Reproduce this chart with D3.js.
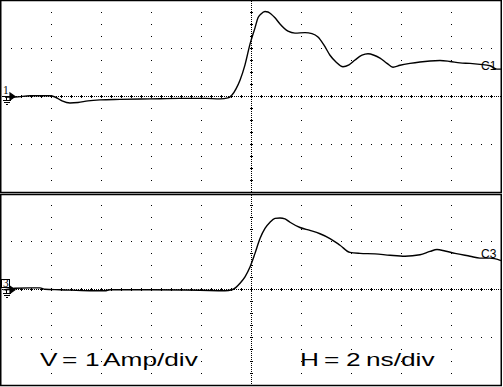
<!DOCTYPE html>
<html>
<head>
<meta charset="utf-8">
<script src="https://cdn.jsdelivr.net/npm/d3@7"></script>
<style>
  body { margin: 0; background: #fff; }
  svg { display: block; }
</style>
</head>
<body>
<div id="scope"></div>
<script>
// horizontal: 2 ns/div, 10 divisions; vertical: 1 A/div, 4 divisions per panel
const timeTicks = [0, 2, 4, 6, 8, 10, 12, 14, 16, 18, 20];
const ampTicks = [-2, -1, 0, 1, 2];
const vScaleWords = ["V", "=", "1", "Amp/div"];
const hScaleWords = ["H", "=", "2", "ns/div"];

// channel 1 (top trace), time in ns, current in A
const c1Time = [0.16, 0.56, 1.16, 1.96, 2.16, 2.44, 2.76, 3.08, 3.48, 3.96, 4.76, 5.96, 7.16, 8.16, 8.76, 9.08,
  9.24, 9.4, 9.56, 9.76, 9.96, 10.16, 10.28, 10.4, 10.56, 10.68, 10.8, 10.96, 11.16, 11.48, 11.76, 12.16,
  12.44, 12.68, 12.92, 13.16, 13.4, 13.68, 13.92, 14.16, 14.44, 14.68, 14.92, 15.16, 15.44, 15.68, 15.96,
  16.36, 16.76, 17.16, 17.56, 17.96, 18.36, 18.76, 19.16, 19.56, 19.84, 20];
const c1Amps = [-0.01, -0.01, 0.015, 0.015, -0.01, -0.09, -0.135, -0.125, -0.09, -0.07, -0.06, -0.05, -0.04, -0.04, -0.05, -0.03,
  0.03, 0.16, 0.34, 0.66, 1.09, 1.43, 1.64, 1.72, 1.77, 1.76, 1.72, 1.64, 1.51, 1.36, 1.32, 1.33,
  1.31, 1.24, 1.07, 0.86, 0.72, 0.62, 0.66, 0.76, 0.86, 0.89, 0.86, 0.8, 0.69, 0.61, 0.65,
  0.69, 0.72, 0.74, 0.75, 0.73, 0.7, 0.69, 0.67, 0.64, 0.57, 0.57];

// channel 3 (bottom trace)
const c3Time = [0.16, 0.56, 1.16, 1.56, 1.76, 2.36, 3.56, 4.16, 4.36, 5.96, 7.96, 8.96, 9.24, 9.4, 9.56, 9.76,
  9.96, 10.16, 10.36, 10.56, 10.76, 10.96, 11.16, 11.36, 11.56, 11.96, 12.36, 12.76, 13.16, 13.56, 13.96,
  14.36, 14.96, 15.56, 16.16, 16.76, 17.16, 17.44, 17.76, 18.16, 18.76, 19.16, 19.56, 20];
const c3Amps = [0, 0.03, 0.04, 0.04, 0.01, 0, -0.02, -0.02, 0, 0, -0.01, -0.02, 0, 0.05, 0.135, 0.27,
  0.475, 0.76, 1.07, 1.28, 1.41, 1.49, 1.5, 1.48, 1.41, 1.3, 1.24, 1.17, 1.07, 0.93, 0.78,
  0.76, 0.75, 0.72, 0.7, 0.73, 0.8, 0.84, 0.81, 0.76, 0.7, 0.66, 0.66, 0.61];

const width = 503, height = 387;

const svg = d3.select("#scope")
  .append("svg")
  .attr("width", width)
  .attr("height", height);

const x = d3.scaleLinear().domain([timeTicks[0], timeTicks[timeTicks.length - 1]]).range([1, 501]);

const panels = [
  { top: 0.5, bottom: 192.5, border: [0.5, 192.5], label: "C1", labelDy: 1, mark: "1", boxed: false,
    time: c1Time, amps: c1Amps },
  { top: 194, bottom: 385.5, border: [194.5, 385.5], label: "C3", labelDy: -2.5, mark: "3", boxed: true,
    time: c3Time, amps: c3Amps }
];

const dot = (g, px, py, w = 1, h = 1) => g.append("rect")
  .attr("x", Math.round(px - w / 2 + 0.01))
  .attr("y", Math.round(py - h / 2 + 0.01))
  .attr("width", w).attr("height", h)
  .attr("fill", "#000")
  .attr("shape-rendering", "crispEdges");

panels.forEach(p => {
  const y = d3.scaleLinear().domain([ampTicks[0], ampTicks[ampTicks.length - 1]]).range([p.bottom, p.top]);
  const g = svg.append("g");

  // border
  g.append("rect")
    .attr("x", 0.75).attr("y", p.border[0])
    .attr("width", 500.5).attr("height", p.border[1] - p.border[0])
    .attr("fill", "none")
    .attr("stroke", "#000")
    .attr("stroke-width", 1.5);

  const grid = g.append("g");
  const xMid = x(10), yMid = y(0);

  // vertical division lines: a dot every quarter division
  timeTicks.slice(1, -1).forEach(t => {
    const px = x(t);
    if (t === 10) return;
    d3.range(ampTicks[0] + 0.25, ampTicks[ampTicks.length - 1], 0.25)
      .forEach(a => dot(grid, px, y(a)));
  });

  // horizontal division lines: a dot every fifth of a division
  ampTicks.slice(1, -1).forEach(a => {
    if (a === 0) return;
    const py = y(a);
    d3.range(0.4, 20, 0.4).forEach(t => dot(grid, x(t), py));
  });

  // centre axes, densely dotted with minor ticks
  for (let px = x(0) + 1; px < x(20); px += 2) dot(grid, px, yMid);
  d3.range(0.4, 20, 0.4).forEach(t => dot(grid, x(t), yMid, 1, 3));
  for (let py = p.top + 1; py < p.bottom; py += 2) dot(grid, xMid, py);
  d3.range(-1.75, 2, 0.25).forEach(a => dot(grid, xMid, y(a), 3, 1));

  // trace
  const pts = p.time.map((t, i) => [t, p.amps[i]]);
  const line = d3.line()
    .x(d => x(d[0]))
    .y(d => y(d[1]))
    .curve(d3.curveMonotoneX);

  g.append("path")
    .datum(pts)
    .attr("d", line)
    .attr("fill", "none")
    .attr("stroke", "#000")
    .attr("stroke-width", 1.4);

  // channel label at right end
  g.append("text")
    .text(p.label)
    .attr("x", 481)
    .attr("y", y(p.amps[p.amps.length - 1]) + p.labelDy)
    .style("font-family", "Liberation Sans, Arial, sans-serif")
    .style("font-size", "12px")
    .attr("fill", "#000");

  // ground marker on the left
  const gm = g.append("g");
  gm.append("path")
    .attr("d", `M3,${yMid} H10 M10,${yMid - 3.5} L15,${yMid} L10,${yMid + 3.5} Z`)
    .attr("stroke", "#000").attr("stroke-width", 1.2).attr("fill", "#000");
  gm.append("path")
    .attr("d", `M6.5,${yMid} V${yMid + 4} M2.5,${yMid + 4} H10.5 M3.5,${yMid + 6} H9.5 M5.5,${yMid + 8} H7.5`)
    .attr("stroke", "#000").attr("stroke-width", 1).attr("fill", "none")
    .attr("shape-rendering", "crispEdges");
  if (p.boxed) {
    gm.append("rect")
      .attr("x", 1.5).attr("y", yMid - 10.5)
      .attr("width", 8).attr("height", 8)
      .attr("fill", "none").attr("stroke", "#000").attr("stroke-width", 1)
      .attr("shape-rendering", "crispEdges");
  }
  gm.append("text")
    .text(p.mark)
    .attr("x", 5.8)
    .attr("y", yMid - 2.5)
    .attr("text-anchor", "middle")
    .style("font-family", "Liberation Serif, serif")
    .style("font-size", "11.5px");
});

// scale annotations: wide screen font, so stretch horizontally
const labelY = 366;
const wordX = [[40, 62, 85, 103], [300, 324, 346, 366]];
[vScaleWords, hScaleWords].forEach((words, i) => {
  words.forEach((w, j) => {
    svg.append("text")
      .text(w)
      .attr("transform", `translate(${wordX[i][j]},${labelY}) scale(1.42,1)`)
      .style("font-family", "Liberation Sans, Arial, sans-serif")
      .style("font-size", "18.5px")
      .attr("fill", "#000");
  });
});
</script>
</body>
</html>
